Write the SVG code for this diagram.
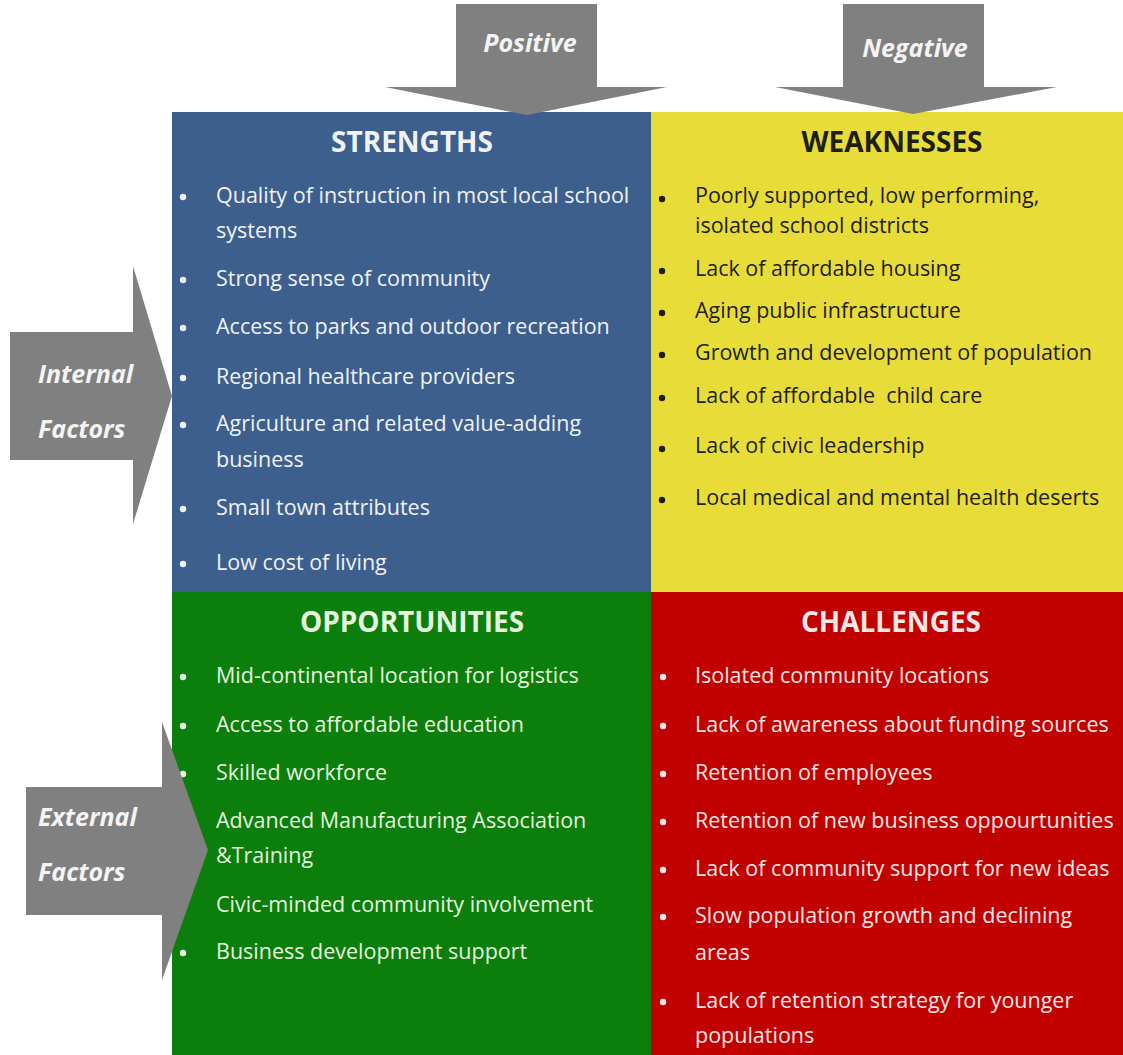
<svg xmlns="http://www.w3.org/2000/svg" width="1123" height="1055" viewBox="0 0 1123 1055">
<style>
.item{font-family:"Open Sans","Liberation Sans",sans-serif;font-size:21.5px}
.head{font-family:"Open Sans","Liberation Sans",sans-serif;font-size:28px;font-weight:bold;text-anchor:middle}
.lbl{font-family:"Open Sans","Liberation Sans",sans-serif;font-size:25px;font-weight:bold;font-style:italic;fill:#f4f4f4}
.arrow{fill:#808080}
.wt{fill:#f0f2f4}
.bt{fill:#1e1e14}
.gt{fill:#e6f5df}
.rt{fill:#f6e6e6}
</style>
<rect width="1123" height="1055" fill="#ffffff"/>
<g id="strengths">
<rect x="172" y="112" width="479" height="480" fill="#3d5f8e"/>
<text class="head wt" x="412" y="152">STRENGTHS</text>
<g class="wt">
<circle cx="183" cy="197" r="3.2"/><circle cx="183" cy="280" r="3.2"/><circle cx="183" cy="328" r="3.2"/><circle cx="183" cy="378" r="3.2"/><circle cx="183" cy="425" r="3.2"/><circle cx="183" cy="509" r="3.2"/><circle cx="183" cy="564" r="3.2"/>
</g>
<g class="item wt">
<text x="216" y="203">Quality of instruction in most local school</text>
<text x="216" y="238">systems</text>
<text x="216" y="286">Strong sense of community</text>
<text x="216" y="334">Access to parks and outdoor recreation</text>
<text x="216" y="384">Regional healthcare providers</text>
<text x="216" y="431">Agriculture and related value-adding</text>
<text x="216" y="467">business</text>
<text x="216" y="515">Small town attributes</text>
<text x="216" y="570">Low cost of living</text>
</g>
</g>
<g id="weaknesses">
<rect x="651" y="112" width="472" height="480" fill="#e8dc38"/>
<text class="head bt" x="892" y="152">WEAKNESSES</text>
<g class="bt">
<circle cx="662" cy="199" r="3.2"/><circle cx="662" cy="271" r="3.2"/><circle cx="662" cy="313" r="3.2"/><circle cx="662" cy="355" r="3.2"/><circle cx="662" cy="398" r="3.2"/><circle cx="662" cy="449" r="3.2"/><circle cx="662" cy="500" r="3.2"/>
</g>
<g class="item bt">
<text x="695" y="203">Poorly supported, low performing,</text>
<text x="695" y="233">isolated school districts</text>
<text x="695" y="276">Lack of affordable housing</text>
<text x="695" y="318">Aging public infrastructure</text>
<text x="695" y="360">Growth and development of population</text>
<text x="695" y="403" xml:space="preserve">Lack of affordable  child care</text>
<text x="695" y="453">Lack of civic leadership</text>
<text x="695" y="505">Local medical and mental health deserts</text>
</g>
</g>
<g id="opportunities">
<rect x="172" y="592" width="479" height="463" fill="#0b7e0b"/>
<text class="head gt" x="412" y="632">OPPORTUNITIES</text>
<g class="gt">
<circle cx="183" cy="677" r="3.2"/><circle cx="183" cy="726" r="3.2"/><circle cx="183" cy="774" r="3.2"/><circle cx="183" cy="822" r="3.2"/><circle cx="183" cy="906" r="3.2"/><circle cx="183" cy="953" r="3.2"/>
</g>
<g class="item gt">
<text x="216" y="683">Mid-continental location for logistics</text>
<text x="216" y="732">Access to affordable education</text>
<text x="216" y="780">Skilled workforce</text>
<text x="216" y="828">Advanced Manufacturing Association</text>
<text x="216" y="863">&amp;Training</text>
<text x="216" y="912">Civic-minded community involvement</text>
<text x="216" y="959">Business development support</text>
</g>
</g>
<g id="challenges">
<rect x="651" y="592" width="472" height="463" fill="#c10000"/>
<text class="head rt" x="891" y="632">CHALLENGES</text>
<g class="rt">
<circle cx="663" cy="677" r="3.2"/><circle cx="663" cy="726" r="3.2"/><circle cx="663" cy="774" r="3.2"/><circle cx="663" cy="822" r="3.2"/><circle cx="663" cy="870" r="3.2"/><circle cx="663" cy="917" r="3.2"/><circle cx="663" cy="1002" r="3.2"/>
</g>
<g class="item rt">
<text x="695" y="683">Isolated community locations</text>
<text x="695" y="732">Lack of awareness about funding sources</text>
<text x="695" y="780">Retention of employees</text>
<text x="695" y="828">Retention of new business oppourtunities</text>
<text x="695" y="876">Lack of community support for new ideas</text>
<text x="695" y="923">Slow population growth and declining</text>
<text x="695" y="960">areas</text>
<text x="695" y="1008">Lack of retention strategy for younger</text>
<text x="695" y="1043">populations</text>
</g>
</g>
<g id="connectors">
<g id="arrow-positive">
<polygon class="arrow" points="456,4 597,4 597,87 667,87 527,115 385,87 456,87"/>
<text class="lbl" x="530" y="52" text-anchor="middle">Positive</text>
</g>
<g id="arrow-negative">
<polygon class="arrow" points="843,4 984,4 984,87 1057,87 913,114 775,87 843,87"/>
<text class="lbl" x="915" y="57" text-anchor="middle">Negative</text>
</g>
<g id="arrow-internal">
<polygon class="arrow" points="10,332 133,332 133,266 172,396 133,524 133,460 10,460"/>
<text class="lbl" x="38" y="383">Internal</text>
<text class="lbl" x="38" y="438">Factors</text>
</g>
<g id="arrow-external">
<polygon class="arrow" points="26,787 162,787 162,722 208,850 162,980 162,915 26,915"/>
<text class="lbl" x="38" y="826">External</text>
<text class="lbl" x="38" y="881">Factors</text>
</g>
</g>
</svg>
